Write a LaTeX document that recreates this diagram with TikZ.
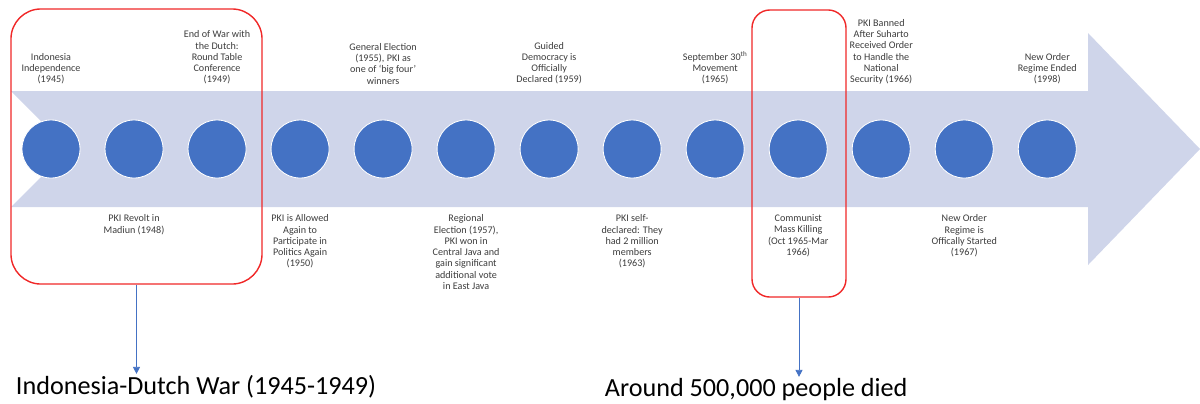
\documentclass[tikz,border=0pt]{standalone}
\usepackage{fontspec}
\setmainfont{Carlito}
\usepackage{tikz}
\usetikzlibrary{shapes, arrows.meta, positioning, calc}

\definecolor{bandblue}{RGB}{207,213,234}
\definecolor{dotblue}{RGB}{68,114,196}
\definecolor{boxred}{RGB}{240,40,40}
\definecolor{textgray}{RGB}{60,60,60}

\tikzstyle{bubble} = [
    circle,
    minimum size = 1.45cm,
    inner sep = 0pt,
    fill = dotblue,
    draw = white,
    line width = 0.6pt,
]
\tikzstyle{event} = [
    align = center,
    inner sep = 0pt,
    text = textgray,
    font = \fontsize{7.2}{8}\selectfont,
]
\tikzstyle{period} = [
    rectangle,
    draw = boxred,
    line width = 1pt,
]
\tikzstyle{summary} = [
    anchor = base west,
    font = \fontsize{18.6}{22}\selectfont,
]
\tikzstyle{pointer} = [
    draw = dotblue,
    line width = 0.6pt,
    -{Triangle[length = 5pt, width = 5pt]},
]

\begin{document}
\begin{tikzpicture} [x = 0.025cm, y = -0.025cm, node distance = 2.075cm]
    \useasboundingbox (0, 0) rectangle (1200, 403);

    % the big arrow
    \fill[bandblue] (11, 91) -- (1088, 91) -- (1088, 33) -- (1200, 149) -- (1088, 265) -- (1088, 207) -- (11, 207) -- (69, 149) -- cycle;

    \node (C1) [bubble] at (51, 149) {};
    \node (C2) [bubble, right of = C1] {};
    \node (C3) [bubble, right of = C2] {};
    \node (C4) [bubble, right of = C3] {};
    \node (C5) [bubble, right of = C4] {};
    \node (C6) [bubble, right of = C5] {};
    \node (C7) [bubble, right of = C6] {};
    \node (C8) [bubble, right of = C7] {};
    \node (C9) [bubble, right of = C8] {};
    \node (C10) [bubble, right of = C9] {};
    \node (C11) [bubble, right of = C10] {};
    \node (C12) [bubble, right of = C11] {};
    \node (C13) [bubble, right of = C12] {};

    \node (Independence) [event, above = 0.875cm of C1] {Indonesia\\Independence\\(1945)};
    \node (Revolt) [event, below = 0.9cm of C2] {PKI Revolt in\\Madiun (1948)};
    \node (RoundTable) [event, above = 0.875cm of C3] {End of War with\\the Dutch:\\Round Table\\Conference\\(1949)};
    \node (Allowed) [event, below = 0.9cm of C4] {PKI is Allowed\\Again to\\Participate in\\Politics Again\\(1950)};
    \node (Election) [event, above = 0.875cm of C5] {General Election\\(1955), PKI as\\one of ‘big four’\\winners};
    \node (Regional) [event, below = 0.9cm of C6] {Regional\\Election (1957),\\PKI won in\\Central Java and\\gain significant\\additional vote\\in East Java};
    \node (Guided) [event, above = 0.875cm of C7] {Guided\\Democracy is\\Officially\\Declared (1959)};
    \node (SelfDeclared) [event, below = 0.9cm of C8] {PKI self-\\declared: They\\had 2 million\\members\\(1963)};
    \node (Movement) [event, above = 0.875cm of C9] {September 30\textsuperscript{th}\\Movement\\(1965)};
    \node (Killing) [event, below = 0.9cm of C10] {Communist\\Mass Killing\\(Oct 1965-Mar\\1966)};
    \node (Banned) [event, above = 0.875cm of C11] {PKI Banned\\After Suharto\\Received Order\\to Handle the\\National\\Security (1966)};
    \node (Started) [event, below = 0.9cm of C12] {New Order\\Regime is\\Offically Started\\(1967)};
    \node (Ended) [event, above = 0.875cm of C13] {New Order\\Regime Ended\\(1998)};

    % highlighted periods
    \node (WarBox) [period, rounded corners = 0.75cm, minimum width = 6.275cm, minimum height = 6.875cm] at (136.5, 146.5) {};
    \node (KillingBox) [period, rounded corners = 0.45cm, minimum width = 2.35cm, minimum height = 7.175cm] at (799, 153.5) {};

    \node (War) [summary] at (11, 394) {Indonesia-Dutch War (1945-1949)};
    \node (Died) [summary] at (600, 396) {Around 500,000 people died};

    \draw[pointer] (WarBox.south) -- ($(WarBox.south |- War.north) + (0, 4)$);
    \draw[pointer] (KillingBox.south) -- ($(KillingBox.south |- Died.north) + (0, 4)$);
\end{tikzpicture}
\end{document}
